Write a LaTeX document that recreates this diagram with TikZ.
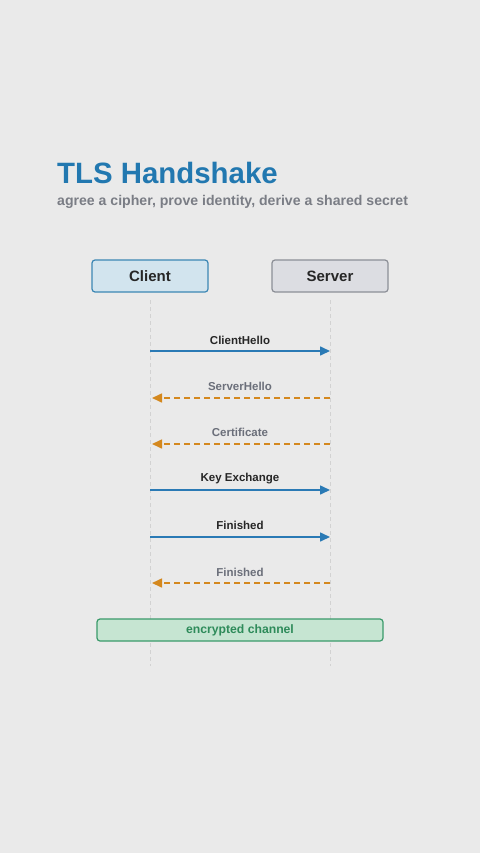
\documentclass[tikz,border=0pt]{standalone}
\usepackage{fontspec}
\setmainfont{Liberation Sans}
\usetikzlibrary{arrows.meta}
\definecolor{bg}{HTML}{EAEAEA}
\definecolor{titleblue}{HTML}{2278B0}
\definecolor{subgray}{HTML}{7A7D85}
\definecolor{cfill}{HTML}{D2E4EE}
\definecolor{cdraw}{HTML}{3C87B4}
\definecolor{sfill}{HTML}{DCDDE2}
\definecolor{sdraw}{HTML}{8C8F97}
\definecolor{msgblue}{HTML}{2A7AB5}
\definecolor{msgorange}{HTML}{D4881E}
\definecolor{lblgray}{HTML}{6B6F7A}
\definecolor{efill}{HTML}{C6E5D2}
\definecolor{edraw}{HTML}{3A9A6A}
\definecolor{etext}{HTML}{2E8B5A}
\definecolor{lifeline}{HTML}{D2D2D2}
\begin{document}
\begin{tikzpicture}[x=1pt,y=-1pt,
  actor/.style={draw,line width=1.2pt,rounded corners=3pt,minimum width=116pt,minimum height=32pt,inner sep=0pt,font=\fontsize{15}{18}\selectfont\bfseries,text=black!85},
  life/.style={draw=lifeline,line width=1pt,dash pattern=on 4pt off 3pt},
  req/.style={draw=msgblue,line width=1.6pt,-{Triangle[length=10pt,width=9pt]}},
  resp/.style={draw=msgorange,line width=1.6pt,dash pattern=on 6pt off 4pt,-{Triangle[length=10pt,width=9pt]}},
  reqlbl/.style={font=\fontsize{11.5}{13}\selectfont\bfseries,text=black!85,inner sep=0pt},
  resplbl/.style={font=\fontsize{11.5}{13}\selectfont\bfseries,text=lblgray,inner sep=0pt}
]
\useasboundingbox (0,0) rectangle (480,853);
\fill[bg] (0,0) rectangle (480,853);

\node[anchor=base west,inner sep=0pt,text=titleblue,font=\fontsize{29.4}{34}\selectfont\bfseries] (title) at (57,183) {TLS Handshake};
\node[anchor=base west,inner sep=0pt,text=subgray,font=\fontsize{14.1}{17}\selectfont\bfseries] (subtitle) at (57,205) {agree a cipher, prove identity, derive a shared secret};

\node[actor,fill=cfill,draw=cdraw] (client) at (150,276) {Client};
\node[actor,fill=sfill,draw=sdraw] (server) at (330,276) {Server};

\coordinate (ctop) at (150,300);
\coordinate (cbot) at (150,666);
\coordinate (stop) at (330,300);
\coordinate (sbot) at (330,666);
\draw[life] (ctop) -- (cbot);
\draw[life] (stop) -- (sbot);

\foreach \i/\y in {1/351,2/398,3/444,4/490,5/537,6/583}{
  \coordinate (c\i) at (150,\y);
  \coordinate (s\i) at (330,\y);
}
\coordinate (c2h) at (152,398);
\coordinate (c3h) at (152,444);
\coordinate (c6h) at (152,583);

\draw[req] (c1) -- (s1);
\node[reqlbl] (l1) at (240,340) {ClientHello};
\draw[resp] (s2) -- (c2h);
\node[resplbl] (l2) at (240,386) {ServerHello};
\draw[resp] (s3) -- (c3h);
\node[resplbl] (l3) at (240,432) {Certificate};
\draw[req] (c4) -- (s4);
\node[reqlbl] (l4) at (240,479) {Key Exchange};
\draw[req] (c5) -- (s5);
\node[reqlbl] (l5) at (240,525) {Finished};
\draw[resp] (s6) -- (c6h);
\node[resplbl] (l6) at (240,572) {Finished};

\node[draw=edraw,fill=efill,line width=1.2pt,rounded corners=3pt,minimum width=286pt,minimum height=22pt,inner sep=0pt,text=etext,font=\fontsize{12.2}{14}\selectfont\bfseries] (enc) at (240,630) {encrypted channel};
\end{tikzpicture}
\end{document}
